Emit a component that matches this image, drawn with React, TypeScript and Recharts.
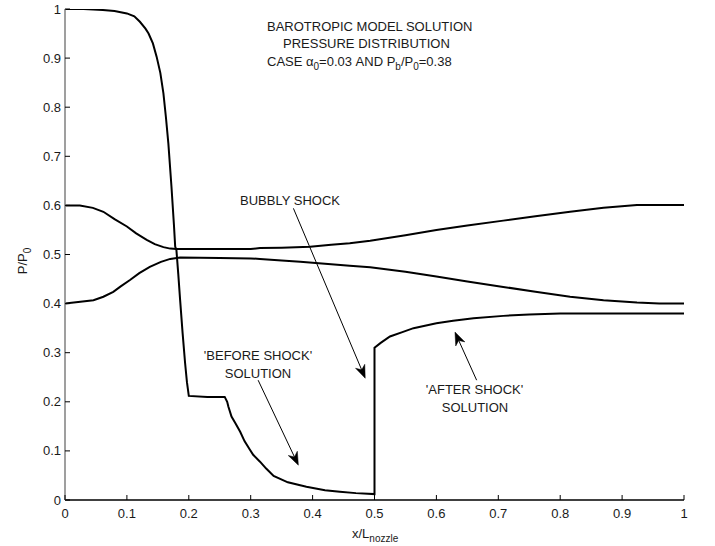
import React from "react";
import { LineChart, Line, XAxis, YAxis, ReferenceLine } from "recharts";

// curve through the shock (before + jump + after)
const shockX = [0, 0.03, 0.061, 0.08, 0.1, 0.112, 0.121, 0.13, 0.135, 0.142, 0.148, 0.154, 0.159, 0.163, 0.167, 0.172, 0.176, 0.178, 0.18, 0.183, 0.186, 0.19, 0.194, 0.197, 0.2, 0.23, 0.258, 0.262, 0.264, 0.269, 0.276, 0.283, 0.29, 0.299, 0.304, 0.315, 0.325, 0.337, 0.36, 0.39, 0.42, 0.444, 0.47, 0.5, 0.5, 0.51, 0.525, 0.545, 0.563, 0.6, 0.627, 0.66, 0.708, 0.75, 0.8, 0.837, 0.9, 1.0];
const shockP = [1, 1, 0.998, 0.996, 0.991, 0.985, 0.974, 0.96, 0.95, 0.93, 0.903, 0.87, 0.828, 0.78, 0.726, 0.638, 0.56, 0.516, 0.509, 0.46, 0.407, 0.34, 0.279, 0.24, 0.212, 0.21, 0.21, 0.2, 0.19, 0.17, 0.155, 0.139, 0.12, 0.102, 0.092, 0.078, 0.064, 0.049, 0.036, 0.027, 0.02, 0.017, 0.014, 0.012, 0.31, 0.32, 0.333, 0.342, 0.35, 0.36, 0.365, 0.37, 0.375, 0.378, 0.38, 0.38, 0.38, 0.38];

// curve starting at 0.6
const upperX = [0, 0.024, 0.045, 0.062, 0.08, 0.1, 0.115, 0.132, 0.145, 0.159, 0.17, 0.18, 0.25, 0.3, 0.315, 0.35, 0.396, 0.43, 0.46, 0.493, 0.55, 0.6, 0.65, 0.708, 0.76, 0.816, 0.87, 0.924, 0.96, 1];
const upperP = [0.6, 0.6, 0.595, 0.587, 0.572, 0.557, 0.543, 0.53, 0.521, 0.515, 0.512, 0.511, 0.511, 0.511, 0.513, 0.514, 0.516, 0.52, 0.523, 0.528, 0.539, 0.55, 0.559, 0.569, 0.578, 0.587, 0.595, 0.601, 0.601, 0.601];

// curve starting at 0.4
const lowerX = [0, 0.046, 0.062, 0.078, 0.09, 0.105, 0.12, 0.137, 0.155, 0.17, 0.186, 0.25, 0.3, 0.315, 0.35, 0.38, 0.42, 0.46, 0.493, 0.55, 0.6, 0.65, 0.708, 0.76, 0.816, 0.87, 0.924, 0.96, 1];
const lowerP = [0.4, 0.407, 0.414, 0.424, 0.435, 0.448, 0.462, 0.475, 0.485, 0.491, 0.494, 0.493, 0.492, 0.491, 0.488, 0.485, 0.481, 0.477, 0.474, 0.465, 0.455, 0.445, 0.434, 0.424, 0.414, 0.407, 0.402, 0.4, 0.4];

const ticks = [0, 0.1, 0.2, 0.3, 0.4, 0.5, 0.6, 0.7, 0.8, 0.9, 1];
const tickLabels = ["0", "0.1", "0.2", "0.3", "0.4", "0.5", "0.6", "0.7", "0.8", "0.9", "1"];

// annotation arrows: [fromX, fromY, toX, toY] in data units
const arrows = [
  [0.369, 0.594, 0.485, 0.248],
  [0.312, 0.244, 0.377, 0.071],
  [0.665, 0.244, 0.63, 0.342],
];

const zip = (xs: number[], ys: number[]) => xs.map((x, i) => ({ x, y: ys[i] }));

const font = "'Liberation Sans', Arial, sans-serif";
const label = (v: number) => tickLabels[ticks.indexOf(v)] ?? String(v);

const YTick = (props: any) => {
  const { x, y, payload } = props;
  const ax = x + 4;
  return (
    <g>
      <line x1={ax} x2={ax + 5} y1={y} y2={y} stroke="#000" />
      <text x={x} y={y} dy={4.5} textAnchor="end" fontSize={13} fill="#1a1a1a" fontFamily={font}>
        {label(payload.value)}
      </text>
    </g>
  );
};

const XTick = (props: any) => {
  const { x, y, payload } = props;
  const ay = y - 8;
  return (
    <g>
      <line x1={x} x2={x} y1={ay} y2={ay - 5} stroke="#000" />
      <text x={x} y={y} dy={10} textAnchor="middle" fontSize={13} fill="#1a1a1a" fontFamily={font}>
        {label(payload.value)}
      </text>
    </g>
  );
};

const Arrow = (props: any) => {
  const { x1, y1, x2, y2 } = props;
  const dx = x2 - x1;
  const dy = y2 - y1;
  const len = Math.sqrt(dx * dx + dy * dy) || 1;
  const ux = dx / len;
  const uy = dy / len;
  const px = -uy;
  const py = ux;
  const L = 13;
  const W = 5;
  const bx = x2 - ux * L;
  const by = y2 - uy * L;
  const nx = x2 - ux * L * 0.7;
  const ny = y2 - uy * L * 0.7;
  const pts = `${x2},${y2} ${bx + px * W},${by + py * W} ${nx},${ny} ${bx - px * W},${by - py * W}`;
  return (
    <g>
      <line x1={x1} y1={y1} x2={nx} y2={ny} stroke="#000" strokeWidth={1} />
      <polygon points={pts} fill="#000" stroke="#000" strokeWidth={0.5} />
    </g>
  );
};

const txt = { fontSize: 13, fill: "#1a1a1a", fontFamily: font } as const;

export default function App() {
  return (
    <div style={{ position: "absolute", left: 0, top: 0 }}>
      <LineChart
        width={715}
        height={546}
        margin={{ top: 9, right: 31, bottom: 0, left: 0 }}
        style={{ fontFamily: font, background: "#fff" }}
      >
        <XAxis
          dataKey="x"
          type="number"
          domain={[0, 1]}
          ticks={ticks}
          height={46}
          tickSize={0}
          tickMargin={8}
          tick={<XTick />}
          axisLine={{ stroke: "#000", strokeWidth: 1.5 }}
          tickLine={false}
          allowDataOverflow
        />
        <YAxis
          type="number"
          domain={[0, 1]}
          ticks={ticks}
          width={65}
          tickSize={0}
          tickMargin={4}
          tick={<YTick />}
          axisLine={{ stroke: "#7f7f7f", strokeWidth: 1.5 }}
          tickLine={false}
          allowDataOverflow
        />
        <Line data={zip(upperX, upperP)} dataKey="y" type="linear" stroke="#000" strokeWidth={2} dot={false} isAnimationActive={false} />
        <Line data={zip(lowerX, lowerP)} dataKey="y" type="linear" stroke="#000" strokeWidth={2} dot={false} isAnimationActive={false} />
        <Line data={zip(shockX, shockP)} dataKey="y" type="linear" stroke="#000" strokeWidth={2} dot={false} isAnimationActive={false} />
        {arrows.map((a, i) => (
          <ReferenceLine
            key={i}
            segment={[{ x: a[0], y: a[1] }, { x: a[2], y: a[3] }]}
            ifOverflow="visible"
            shape={<Arrow />}
          />
        ))}
        <g>
          <text x={267} y={30.5} {...txt}>BAROTROPIC MODEL SOLUTION</text>
          <text x={283} y={48} {...txt}>PRESSURE DISTRIBUTION</text>
          <text x={267} y={65.5} {...txt}>
            CASE α<tspan dy={4} fontSize={10}>0</tspan>
            <tspan dy={-4}>=0.03 AND P</tspan>
            <tspan dy={4} fontSize={10}>b</tspan>
            <tspan dy={-4}>/P</tspan>
            <tspan dy={4} fontSize={10}>0</tspan>
            <tspan dy={-4}>=0.38</tspan>
          </text>
          <text x={240} y={205} {...txt}>BUBBLY SHOCK</text>
          <text x={258} y={360} textAnchor="middle" {...txt}>'BEFORE SHOCK'</text>
          <text x={258} y={377.5} textAnchor="middle" {...txt}>SOLUTION</text>
          <text x={474.5} y={394} textAnchor="middle" {...txt}>'AFTER SHOCK'</text>
          <text x={475} y={411.5} textAnchor="middle" {...txt}>SOLUTION</text>
          <text x={352} y={538} {...txt}>
            x/L<tspan dy={4} fontSize={10}>nozzle</tspan>
          </text>
          <text transform="translate(27,261) rotate(-90)" textAnchor="middle" {...txt}>
            P/P<tspan dy={4} fontSize={10}>0</tspan>
          </text>
        </g>
      </LineChart>
    </div>
  );
}
